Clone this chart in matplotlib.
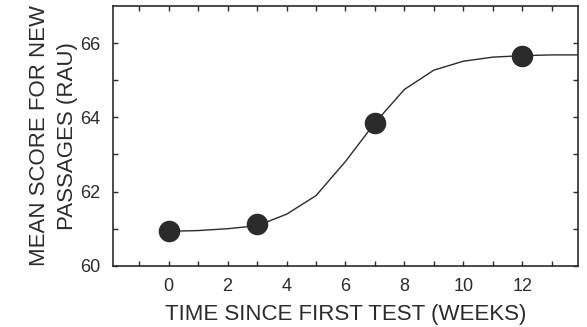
import matplotlib
matplotlib.use("Agg")
import matplotlib.pyplot as plt

plt.rcParams['font.family'] = ['Liberation Sans', 'DejaVu Sans']

# --- dados ---
weeks = [0, 3, 7, 12]
scores = [60.94, 61.12, 63.85, 65.65]

fit_x = [0, 1, 2, 3, 4, 5, 6, 7, 8, 9, 10, 11, 12, 13, 13.9]
fit_y = [60.93, 60.95, 61.0, 61.08, 61.39, 61.89, 62.81, 63.85, 64.75,
         65.27, 65.51, 65.62, 65.66, 65.68, 65.68]

x_ticks = [0, 2, 4, 6, 8, 10, 12]
y_ticks = [60, 62, 64, 66]

ink = '#2b2b2b'

fig = plt.figure(figsize=(5.87, 3.27), dpi=100)
ax = fig.add_axes([0.192, 0.187, 0.793, 0.795])

ax.plot(fit_x, fit_y, color=ink, lw=1.0, zorder=2)
ax.plot(weeks, scores, 'o', color=ink, ms=14.5, zorder=3)

ax.set_xlim(-1.9, 13.9)
ax.set_ylim(60, 67)

ax.set_xticks(x_ticks)
ax.set_xticks(range(-1, 14), minor=True)
ax.set_yticks(y_ticks)
ax.set_yticks(range(60, 67), minor=True)

ax.tick_params(which='both', direction='in', top=True, right=True,
               length=3.5, width=1.0, color=ink)
ax.tick_params(axis='x', which='major', labelsize=13, pad=9, labelcolor=ink)
ax.tick_params(axis='y', which='major', labelsize=13, pad=9, labelcolor=ink)

for s in ax.spines.values():
    s.set_linewidth(1.2)
    s.set_color(ink)

ax.set_xlabel('TIME SINCE FIRST TEST (WEEKS)', fontsize=16, color=ink, labelpad=6)
ax.set_ylabel('MEAN SCORE FOR NEW\nPASSAGES (RAU)', fontsize=16, color=ink,
              linespacing=1.45)
ax.yaxis.set_label_coords(-0.075, 0.5)

fig.savefig('out.png', dpi=100)
